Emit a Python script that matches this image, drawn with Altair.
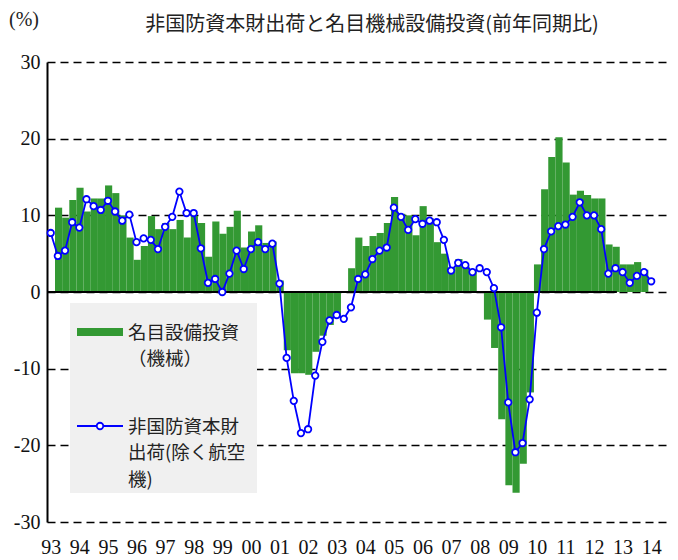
import altair as alt
import pandas as pd

# ---------------- data ----------------
START_YEAR = 1993
YEAR_LABELS = ["93", "94", "95", "96", "97", "98", "99", "00", "01", "02", "03",
               "04", "05", "06", "07", "08", "09", "10", "11", "12", "13", "14"]
Y_TICKS = [-30, -20, -10, 0, 10, 20, 30]

# 非国防資本財出荷（除く航空機）, y/y %, quarterly 1993Q1 - 2014Q1
SHIPMENTS = [7.7, 4.7, 5.4, 9.1, 8.4, 12.1, 11.2, 10.7, 11.9, 10.5,
             9.3, 10.1, 6.5, 7.0, 6.8, 5.6, 8.5, 9.8, 13.1, 10.3,
             10.3, 5.7, 1.2, 1.7, 0.0, 2.4, 5.4, 3.0, 5.6, 6.5,
             5.6, 6.3, 1.1, -8.6, -14.2, -18.4, -17.9, -10.9, -6.5, -3.7,
             -3.0, -3.5, -2.0, 1.7, 2.3, 4.3, 5.4, 5.8, 11.0, 9.8,
             8.1, 9.5, 8.9, 9.3, 9.1, 6.8, 2.8, 3.8, 3.5, 2.6,
             3.1, 2.6, 0.5, -4.6, -14.4, -20.9, -19.7, -14.0, -2.7, 5.6,
             7.9, 8.6, 8.8, 9.8, 11.7, 10.0, 10.0, 8.2, 2.4, 3.1,
             2.6, 1.2, 2.1, 2.6, 1.4]

# 名目設備投資（機械）, y/y %, same quarters (None = no bar)
CAPEX = [None, 11.0, 9.7, 12.0, 13.6, 10.5, 12.2, 12.2, 13.9, 12.9,
         10.0, 7.1, 4.2, 6.0, 9.9, 8.2, 9.0, 8.2, 9.4, 7.1,
         9.9, 9.0, 4.6, 9.2, 7.6, 8.5, 10.6, 5.8, 7.9, 8.7,
         6.4, 6.6, 1.5, -7.6, -10.6, -10.6, -10.8, -7.8, -5.7, -4.3,
         -3.3, 0.0, 3.1, 7.1, 6.0, 7.3, 7.7, 9.0, 12.4, 10.2,
         10.0, 7.4, 11.2, 9.6, 6.5, 5.0, 3.1, 4.3, 3.3, 2.9,
         0.0, -3.6, -7.3, -16.6, -25.2, -26.2, -22.4, -13.1, 3.6, 13.4,
         17.6, 20.2, 16.9, 12.7, 13.2, 12.65, 12.2, 12.2, 6.2, 5.9,
         3.6, 3.6, 3.9, 2.9, None]

TITLE = "非国防資本財出荷と名目機械設備投資(前年同期比)"
UNIT = "(%)"
LEGEND_BAR = ["名目設備投資", "（機械）"]
LEGEND_LINE = ["非国防資本財", "出荷(除く航空", "機)"]

GREEN = "#339933"
BLUE = "#0000ff"
JP_FONT = "Noto Sans CJK JP"
NUM_FONT = "Liberation Serif"

n = len(SHIPMENTS)
df = pd.DataFrame({
    "t": list(range(n)),
    "quarter": [f"{START_YEAR + k // 4}Q{k % 4 + 1}" for k in range(n)],
    "shipments": SHIPMENTS,
    "capex": CAPEX,
})

x_scale = alt.Scale(domain=[-0.52, 86.35], nice=False, zero=False)
y_scale = alt.Scale(domain=[-30, 30], nice=False)

label_array = "[" + ",".join(f"'{s}'" for s in YEAR_LABELS) + "]"
x_axis = alt.Axis(
    title=None, values=list(range(0, n, 4)), labelExpr=f"{label_array}[datum.value/4]",
    grid=False, domain=False, ticks=False, labelFont=NUM_FONT, labelFontSize=20,
    labelColor="#111", labelPadding=15, labelFlush=False, labelOverlap=False,
)
y_axis = alt.Axis(
    title=None, values=Y_TICKS,
    labelExpr="replace(format(datum.value, 'd'), '\u2212', '-')",
    grid=True, gridDash=[8, 5], gridColor="black", gridWidth=1.6, gridOpacity=1,
    domain=True, domainColor="black", domainWidth=2, ticks=False,
    labelFont=NUM_FONT, labelFontSize=20, labelColor="#111", labelPadding=7,
    labelFlush=False,
)

base = alt.Chart(df)

bars = base.transform_filter("isValid(datum.capex)").transform_calculate(
    x0="datum.t - 0.4", x1="datum.t + 0.6", zero="0"
).mark_rect(color=GREEN).encode(
    x=alt.X("x0:Q", scale=x_scale, axis=x_axis),
    x2="x1:Q",
    y=alt.Y("capex:Q", scale=y_scale, axis=y_axis),
    y2="zero:Q",
)

zero_df = pd.DataFrame({"xs": [-0.52], "xe": [79.2], "y": [0]})
zero_rule = alt.Chart(zero_df).mark_rule(color="black", strokeWidth=2).encode(
    x=alt.X("xs:Q", scale=x_scale, axis=x_axis),
    x2="xe:Q",
    y=alt.Y("y:Q", scale=y_scale, axis=y_axis),
)

one = pd.DataFrame({"d": [0]})
legend_bg = alt.Chart(one).mark_rect(color="#f0f0f0").encode(
    x=alt.value(23), x2=alt.value(210), y=alt.value(241), y2=alt.value(431))
legend_sw = alt.Chart(one).mark_rect(color=GREEN).encode(
    x=alt.value(30), x2=alt.value(76), y=alt.value(266), y2=alt.value(274))
legend_ln = alt.Chart(one).mark_rule(color=BLUE, strokeWidth=1.8).encode(
    x=alt.value(30), x2=alt.value(76), y=alt.value(364))
legend_pt = alt.Chart(one).mark_point(
    shape="circle", filled=True, fill="white", stroke=BLUE, strokeWidth=1.8,
    size=42, opacity=1).encode(x=alt.value(53), y=alt.value(364))

texts = []
for txt, yy in zip(LEGEND_BAR + LEGEND_LINE, [271, 297, 365, 391, 418]):
    texts.append(alt.Chart(one).mark_text(
        align="left", baseline="middle", font=JP_FONT, fontSize=18.5, color="#222"
    ).encode(x=alt.value(81), y=alt.value(yy), text=alt.value(txt)))

title = alt.Chart(one).mark_text(
    align="center", baseline="middle", font=JP_FONT, fontSize=20, color="#222"
).encode(x=alt.value(325), y=alt.value(-37), text=alt.value(TITLE))
unit = alt.Chart(one).mark_text(
    align="center", baseline="middle", font=NUM_FONT, fontSize=20, color="#222"
).encode(x=alt.value(-23), y=alt.value(-42), text=alt.value(UNIT))

line = base.mark_line(color=BLUE, strokeWidth=1.8).encode(
    x=alt.X("t:Q", scale=x_scale, axis=x_axis),
    y=alt.Y("shipments:Q", scale=y_scale, axis=y_axis),
)
points = base.mark_point(
    shape="circle", filled=True, fill="white", stroke=BLUE, strokeWidth=1.8,
    size=42, opacity=1,
).encode(
    x=alt.X("t:Q", scale=x_scale, axis=x_axis),
    y=alt.Y("shipments:Q", scale=y_scale, axis=y_axis),
    tooltip=["quarter:N", "shipments:Q", "capex:Q"],
)

chart = alt.layer(
    bars, zero_rule, legend_bg, legend_sw, legend_ln, legend_pt, *texts,
    line, points, title, unit,
).properties(
    width=621, height=460,
    autosize=alt.AutoSizeParams(type="none"),
    padding={"left": 39, "top": 54, "right": 2, "bottom": 37},
).configure_view(stroke=None)

chart.save("out.html", embed_options={"renderer": "svg", "actions": False})
